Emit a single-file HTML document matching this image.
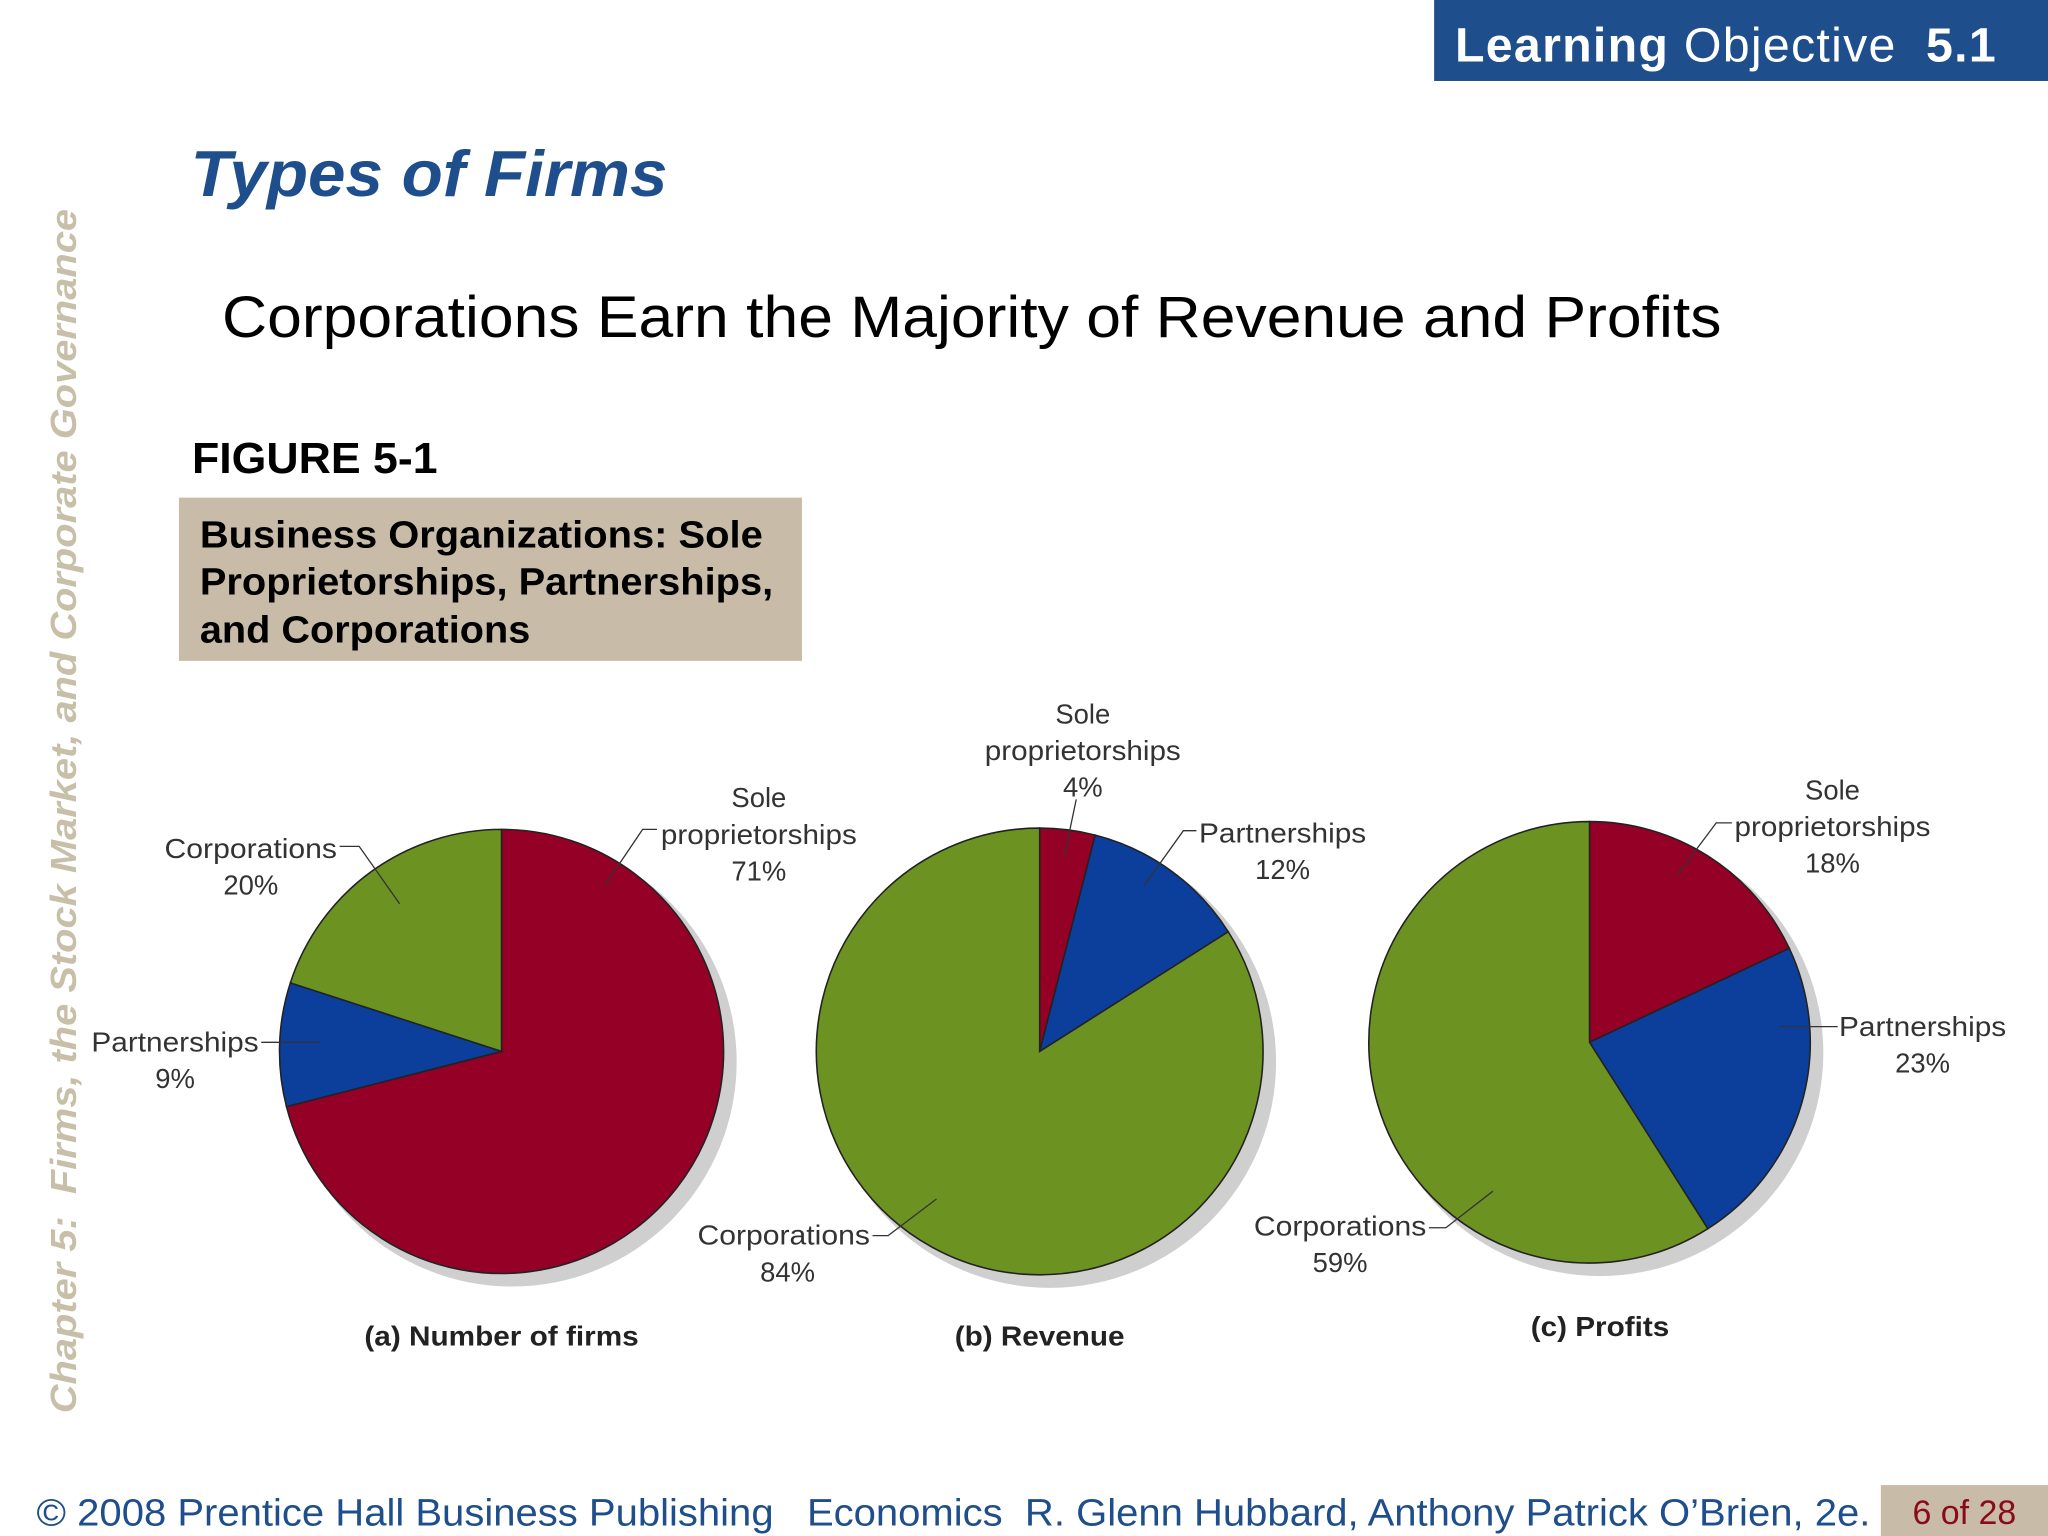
<!DOCTYPE html>
<html><head><meta charset="utf-8"><style>
html,body{margin:0;padding:0;background:#fff}
svg{display:block}
text{white-space:pre}
</style></head><body>
<svg id="chart" width="2048" height="1536" viewBox="0 0 1568 1176" xmlns="http://www.w3.org/2000/svg" font-family="Liberation Sans, sans-serif" xml:space="preserve">
<rect x="1098" y="0" width="470" height="62" fill="#1f4e8c"/>
<text x="1114" y="47" fill="#fff" font-size="37" textLength="414" lengthAdjust="spacing"><tspan font-weight="bold">Learning</tspan> Objective  <tspan font-weight="bold">5.1</tspan></text>
<text x="146" y="150" fill="#1f4e8c" font-size="50" font-weight="bold" font-style="italic" textLength="365" lengthAdjust="spacingAndGlyphs">Types of Firms</text>
<text x="170" y="258" fill="#000" font-size="45" textLength="1148" lengthAdjust="spacingAndGlyphs">Corporations Earn the Majority of Revenue and Profits</text>
<text x="147" y="362" fill="#000" font-size="33" font-weight="bold" textLength="188" lengthAdjust="spacingAndGlyphs">FIGURE 5-1</text>
<rect x="137" y="381" width="477" height="125" fill="#c8bca8"/>
<g font-size="29" font-weight="bold" fill="#000">
<text x="153" y="419" textLength="431" lengthAdjust="spacingAndGlyphs">Business Organizations: Sole</text>
<text x="153" y="455" textLength="439" lengthAdjust="spacingAndGlyphs">Proprietorships, Partnerships,</text>
<text x="153" y="492" textLength="253" lengthAdjust="spacingAndGlyphs">and Corporations</text>
</g>
<text transform="translate(58,1082) rotate(-90)" fill="#c8bfa8" font-size="28" font-weight="bold" font-style="italic" textLength="922" lengthAdjust="spacingAndGlyphs">Chapter 5:  Firms, the Stock Market, and Corporate Governance</text>
<g id="pies"></g>
<g font-size="21" fill="#333" text-anchor="middle" stroke-width="1">
<text x="581" y="618">Sole</text><text x="581" y="646" textLength="150" lengthAdjust="spacingAndGlyphs">proprietorships</text><text x="581" y="674">71%</text>
<polyline points="463,678 492,635 503,635" fill="none" stroke="#333"/>
<text x="192" y="657" textLength="132" lengthAdjust="spacingAndGlyphs">Corporations</text><text x="192" y="685">20%</text>
<polyline points="260,648 275,648 306,692" fill="none" stroke="#333"/>
<text x="134" y="805" textLength="128" lengthAdjust="spacingAndGlyphs">Partnerships</text><text x="134" y="833">9%</text>
<line x1="200" y1="798" x2="245" y2="798" stroke="#333"/>
<text x="829" y="554">Sole</text><text x="829" y="582" textLength="150" lengthAdjust="spacingAndGlyphs">proprietorships</text><text x="829" y="610">4%</text>
<line x1="824" y1="612" x2="815" y2="655" stroke="#333"/>
<text x="982" y="645" textLength="128" lengthAdjust="spacingAndGlyphs">Partnerships</text><text x="982" y="673">12%</text>
<polyline points="916,636 906,636 876,678" fill="none" stroke="#333"/>
<text x="600" y="953" textLength="132" lengthAdjust="spacingAndGlyphs">Corporations</text><text x="603" y="981">84%</text>
<polyline points="668,946 680,946 717,918" fill="none" stroke="#333"/>
<text x="1403" y="612">Sole</text><text x="1403" y="640" textLength="150" lengthAdjust="spacingAndGlyphs">proprietorships</text><text x="1403" y="668">18%</text>
<polyline points="1284,670 1314,630 1326,630" fill="none" stroke="#333"/>
<text x="1472" y="793" textLength="128" lengthAdjust="spacingAndGlyphs">Partnerships</text><text x="1472" y="821">23%</text>
<line x1="1362" y1="786" x2="1407" y2="786" stroke="#333"/>
<text x="1026" y="946" textLength="132" lengthAdjust="spacingAndGlyphs">Corporations</text><text x="1026" y="974">59%</text>
<polyline points="1094,940 1107,940 1143,912" fill="none" stroke="#333"/>
</g>
<g font-size="21" font-weight="bold" fill="#222" text-anchor="middle">
<text x="384" y="1030" textLength="210" lengthAdjust="spacingAndGlyphs">(a) Number of firms</text>
<text x="796" y="1030" textLength="130" lengthAdjust="spacingAndGlyphs">(b) Revenue</text>
<text x="1225" y="1023" textLength="106" lengthAdjust="spacingAndGlyphs">(c) Profits</text>
</g>
<text x="28" y="1168" fill="#1f4e8c" font-size="29" textLength="1404" lengthAdjust="spacingAndGlyphs">© 2008 Prentice Hall Business Publishing   Economics  R. Glenn Hubbard, Anthony Patrick O’Brien, 2e.</text>
<rect x="1440" y="1137" width="128" height="39" fill="#c8bca8"/>
<text x="1504" y="1167" fill="#8b0a1a" font-size="26" text-anchor="middle">6 of 28</text>
</svg>
<script>
const categories = ["Sole proprietorships", "Partnerships", "Corporations"];
const firmsValues = [71, 9, 20];
const revenueValues = [4, 12, 84];
const profitsValues = [18, 23, 59];
const colors = ["#950026", "#0c3f9c", "#6c9222"];
const pies = [
  {name:"firms", vals:firmsValues, cx:384, cy:805, r:170},
  {name:"revenue", vals:revenueValues, cx:796, cy:805, r:171},
  {name:"profits", vals:profitsValues, cx:1217, cy:798, r:169}
];
const NS="http://www.w3.org/2000/svg";
const g=document.getElementById('pies');
function pt(cx,cy,r,a){return [cx+r*Math.sin(a), cy-r*Math.cos(a)];}
pies.forEach(p=>{
  const sh=document.createElementNS(NS,'circle');
  
  
  sh.setAttribute('cx',p.cx+8);sh.setAttribute('cy',p.cy+8);sh.setAttribute('r',p.r+2);
  sh.setAttribute('fill','#cfcfcf');
  g.appendChild(sh);
  const total=p.vals.reduce((a,b)=>a+b,0);
  let acc=0;
  p.vals.forEach((v,i)=>{
    const a0=acc/total*2*Math.PI; acc+=v; const a1=acc/total*2*Math.PI;
    const [x0,y0]=pt(p.cx,p.cy,p.r,a0),[x1,y1]=pt(p.cx,p.cy,p.r,a1);
    const large=(a1-a0)>Math.PI?1:0;
    const path=document.createElementNS(NS,'path');
    
    
    path.setAttribute('d',`M${p.cx},${p.cy} L${x0},${y0} A${p.r},${p.r} 0 ${large} 1 ${x1},${y1} Z`);
    path.setAttribute('fill',colors[i]);
    path.setAttribute('stroke','#222');
    path.setAttribute('stroke-width','1.2');
    g.appendChild(path);
  });
});
</script>
</body></html>
